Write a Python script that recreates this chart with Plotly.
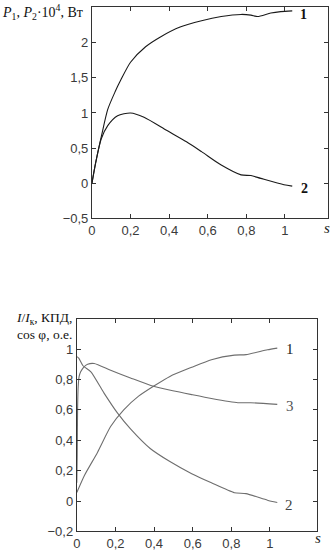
import plotly.graph_objects as go

# ---- top chart data: P1, P2*10^4 vs s ----
top_s1 = [0, 0.02, 0.05, 0.082, 0.12, 0.15, 0.2, 0.278, 0.355, 0.457, 0.568, 0.67, 0.773, 0.824, 0.858, 0.927, 0.978, 1.038]
top_p1 = [0, 0.3, 0.68, 1.05, 1.3, 1.47, 1.72, 1.94, 2.08, 2.22, 2.31, 2.37, 2.40, 2.39, 2.37, 2.42, 2.44, 2.45]
top_s2 = [0, 0.02, 0.048, 0.082, 0.133, 0.2, 0.27, 0.389, 0.49, 0.568, 0.67, 0.773, 0.824, 0.875, 0.995, 1.038]
top_p2 = [0, 0.3, 0.63, 0.82, 0.96, 1.0, 0.94, 0.75, 0.59, 0.45, 0.26, 0.12, 0.11, 0.07, -0.02, -0.04]

# ---- bottom chart data: I/Ik, efficiency, cos phi vs s ----
bot_s1 = [0, 0.04, 0.107, 0.175, 0.243, 0.32, 0.397, 0.482, 0.595, 0.697, 0.816, 0.876, 0.987, 1.038]
bot_v1 = [0.056, 0.17, 0.32, 0.49, 0.6, 0.69, 0.755, 0.82, 0.88, 0.93, 0.96, 0.963, 0.995, 1.006]
bot_s2 = [0, 0.01, 0.032, 0.073, 0.141, 0.21, 0.278, 0.38, 0.482, 0.595, 0.697, 0.816, 0.876, 0.987, 1.038]
bot_v2 = [0.95, 0.94, 0.89, 0.85, 0.71, 0.58, 0.475, 0.346, 0.26, 0.18, 0.12, 0.055, 0.049, 0.006, -0.009]
bot_s3 = [0, 0.002, 0.004, 0.007, 0.012, 0.02, 0.035, 0.056, 0.09, 0.175, 0.278, 0.397, 0.497, 0.595, 0.697, 0.834, 0.90, 1.038]
bot_v3 = [0.12, 0.3, 0.6, 0.75, 0.82, 0.85, 0.88, 0.9, 0.905, 0.86, 0.81, 0.755, 0.725, 0.70, 0.675, 0.647, 0.647, 0.636]

top_xticks = [0, 0.2, 0.4, 0.6, 0.8, 1]
top_xtext = ["0", "0,2", "0,4", "0,6", "0,8", "1"]
top_yticks = [-0.5, 0, 0.5, 1, 1.5, 2]
top_ytext = ["\u22120,5", "0", "0,5", "1", "1,5", "2"]
bot_xticks = [0, 0.2, 0.4, 0.6, 0.8, 1]
bot_xtext = ["0", "0,2", "0,4", "0,6", "0,8", "1"]
bot_yticks = [-0.2, 0, 0.2, 0.4, 0.6, 0.8, 1]
bot_ytext = ["\u22120,2", "0", "0,2", "0,4", "0,6", "0,8", "1"]

W, H = 331, 552
TOP_LINE = "#1a1a1a"
BOT_LINE = "#6e6e6e"

fig = go.Figure()
fig.add_trace(go.Scatter(x=top_s1, y=top_p1, mode="lines", line=dict(color=TOP_LINE, width=1.1, shape="spline", smoothing=0.7), xaxis="x", yaxis="y"))
fig.add_trace(go.Scatter(x=top_s2, y=top_p2, mode="lines", line=dict(color=TOP_LINE, width=1.1, shape="spline", smoothing=0.7), xaxis="x", yaxis="y"))
fig.add_trace(go.Scatter(x=bot_s1, y=bot_v1, mode="lines", line=dict(color=BOT_LINE, width=1.1, shape="spline", smoothing=0.6), xaxis="x2", yaxis="y2"))
fig.add_trace(go.Scatter(x=bot_s2, y=bot_v2, mode="lines", line=dict(color=BOT_LINE, width=1.1, shape="spline", smoothing=0.6), xaxis="x2", yaxis="y2"))
fig.add_trace(go.Scatter(x=bot_s3, y=bot_v3, mode="lines", line=dict(color=BOT_LINE, width=1.1, shape="spline", smoothing=0.6), xaxis="x2", yaxis="y2"))

tickfont = dict(family="Liberation Sans, Arial, sans-serif", size=13, color="#3a3a3a")
axcommon = dict(showline=True, linecolor="#333333", linewidth=1, mirror="ticks", ticks="inside",
                ticklen=4, tickcolor="#333333", tickwidth=1, showgrid=False, zeroline=False,
                tickfont=tickfont, fixedrange=True)

fig.update_layout(
    width=W, height=H,
    margin=dict(l=0, r=0, t=0, b=0),
    paper_bgcolor="white", plot_bgcolor="white",
    showlegend=False,
    xaxis=dict(domain=[89 / W, 328.3 / W], range=[0, 1.225], tickvals=top_xticks, ticktext=top_xtext, anchor="y", **axcommon),
    yaxis=dict(domain=[1 - 221.7 / H, 1 - 7.5 / H], range=[-0.5, 2.5], tickvals=top_yticks, ticktext=top_ytext, anchor="x", **axcommon),
    xaxis2=dict(domain=[73.7 / W, 316.7 / W], range=[0, 1.243], tickvals=bot_xticks, ticktext=bot_xtext, anchor="y2", **axcommon),
    yaxis2=dict(domain=[1 - 539.3 / H, 1 - 323.3 / H], range=[-0.2, 1.2], tickvals=bot_yticks, ticktext=bot_ytext, anchor="x2", **axcommon),
)

serif = "Liberation Serif, Times New Roman, serif"
ann = []
# curve labels
ann.append(dict(x=1.069, y=2.40, xref="x", yref="y", text="<b>1</b>", showarrow=False, xanchor="left", font=dict(family=serif, size=14, color="#111")))
ann.append(dict(x=1.072, y=-0.08, xref="x", yref="y", text="<b>2</b>", showarrow=False, xanchor="left", font=dict(family=serif, size=14, color="#111")))
ann.append(dict(x=1.075, y=1.0, xref="x2", yref="y2", text="1", showarrow=False, xanchor="left", font=dict(family=serif, size=15, color="#222")))
ann.append(dict(x=1.072, y=0.628, xref="x2", yref="y2", text="3", showarrow=False, xanchor="left", font=dict(family=serif, size=15, color="#555")))
ann.append(dict(x=1.07, y=-0.025, xref="x2", yref="y2", text="2", showarrow=False, xanchor="left", font=dict(family=serif, size=15, color="#444")))
# "s" axis labels
ann.append(dict(x=326.7 / W, y=1 - 231.7 / H, xref="paper", yref="paper", text="<i>s</i>", showarrow=False, xanchor="center", yanchor="middle", font=dict(family=serif, size=15, color="#222")))
ann.append(dict(x=318 / W, y=1 - 545.5 / H, xref="paper", yref="paper", text="<i>s</i>", showarrow=False, xanchor="center", yanchor="middle", font=dict(family=serif, size=15, color="#222")))
# y-axis titles
ann.append(dict(x=82 / W, y=1 - 12 / H, xref="paper", yref="paper", xanchor="right", yanchor="middle", showarrow=False,
                text="<i>P</i><sub>1</sub>, <i>P</i><sub>2</sub>·10<sup>4</sup>, Вт", font=dict(family=serif, size=14, color="#111")))
ann.append(dict(x=71 / W, y=1 - 323.5 / H, xref="paper", yref="paper", xanchor="right", yanchor="middle", showarrow=False,
                text="<i>I</i>/<i>I</i><sub>к</sub>, КПД,", font=dict(family=serif, size=13.5, color="#111")))
ann.append(dict(x=71 / W, y=1 - 339.5 / H, xref="paper", yref="paper", xanchor="right", yanchor="middle", showarrow=False,
                text="cos φ, о.е.", font=dict(family=serif, size=13.5, color="#111")))
fig.update_layout(annotations=ann)

fig.write_html("out.html", config={"displayModeBar": False})
